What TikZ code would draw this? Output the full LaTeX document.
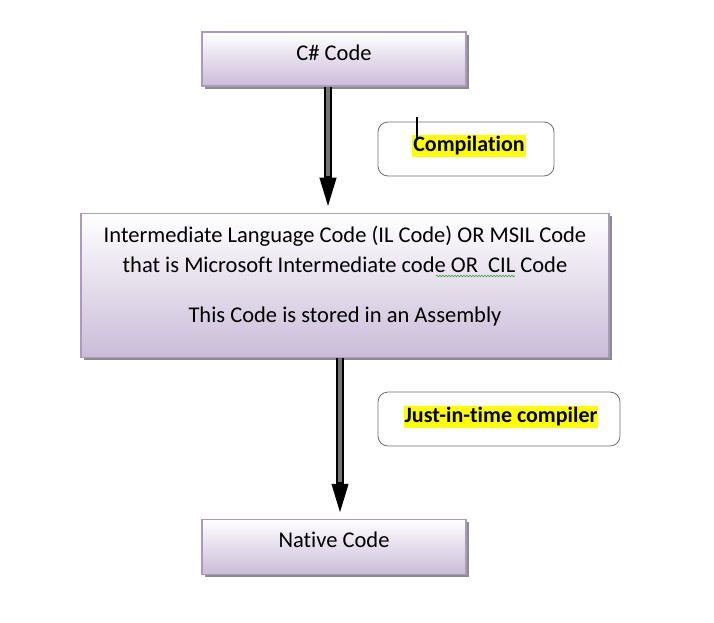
\documentclass[tikz,border=0pt]{standalone}
\usepackage{fontspec}
\setmainfont[Ligatures=NoCommon]{Carlito}
\usetikzlibrary{positioning,arrows.meta,shadows,calc,decorations.pathmorphing}
\definecolor{boxline}{HTML}{A99BBD}
\definecolor{boxfill}{HTML}{CABCD8}
\definecolor{noteline}{HTML}{6E6E6E}
\definecolor{markyellow}{HTML}{FFFF00}
\definecolor{spellgreen}{HTML}{3C9E3C}
\tikzset{
    codebox/.style={draw=boxline,line width=1.2pt,top color=white,bottom color=boxfill,
        drop shadow={shadow xshift=3pt,shadow yshift=-3pt,fill=black!45,opacity=1},
        font=\fontsize{22.5}{30}\selectfont,align=center,inner sep=0pt,text depth=12pt},
    note/.style={draw=noteline,line width=0.8pt,rounded corners=10pt,minimum height=54pt},
    marked/.style={fill=markyellow,font=\bfseries\fontsize{22}{24}\selectfont,inner xsep=1pt,inner ysep=1.5pt},
    shaftout/.style={line width=8pt,black,-{Triangle[length=35pt,width=14pt,fill=black!70]}},
    shaftin/.style={line width=3.5pt,black!55,shorten >=37pt},
}

\begin{document}
\begin{tikzpicture}[x=1pt,y=-1pt]
    \useasboundingbox (0,0) rectangle (714,622);
    \node[codebox,minimum width=264pt,minimum height=54pt] (csharp) at (334,59) {C\# Code};
    \node[codebox,minimum width=528pt,minimum height=144pt,text depth=22pt,below=126pt of csharp,xshift=11pt] (il)
        {Intermediate Language Code (IL Code) OR MSIL Code\\
         that is Microsoft Intermediate code OR\ \ CIL Code\\[20pt]
         This Code is stored in an Assembly};
    \node[codebox,minimum width=264pt,minimum height=55pt,text depth=15pt,below=161pt of il,xshift=-11pt] (native) {Native Code};

    \node[note,minimum width=176pt] (comp) at (466,149) {};
    \node[marked] (comptext) at (469,146) {Compilation};
    \node[note,minimum width=242pt] (jit) at (499,419) {};
    \node[marked] (jittext) at (501,417) {Just-in-time compiler};

    % arrows
    \draw[shaftout] ([xshift=-6pt]csharp.south) -- ([xshift=-6pt]csharp.south |- il.north);
    \draw[shaftin] ([xshift=-6pt]csharp.south) -- ([xshift=-6pt]csharp.south |- il.north);
    \draw[shaftout] ([xshift=-5pt]il.south) -- ([xshift=-5pt]il.south |- native.north);
    \draw[shaftin] ([xshift=-5pt]il.south) -- ([xshift=-5pt]il.south |- native.north);

    % cursor and spell mark
    \draw[line width=1.3pt] (417,117) -- (417,138);
    \draw[spellgreen,line width=0.6pt,decorate,decoration={snake,amplitude=0.8pt,segment length=3pt}] (436,276) -- (515,276);
\end{tikzpicture}
\end{document}
